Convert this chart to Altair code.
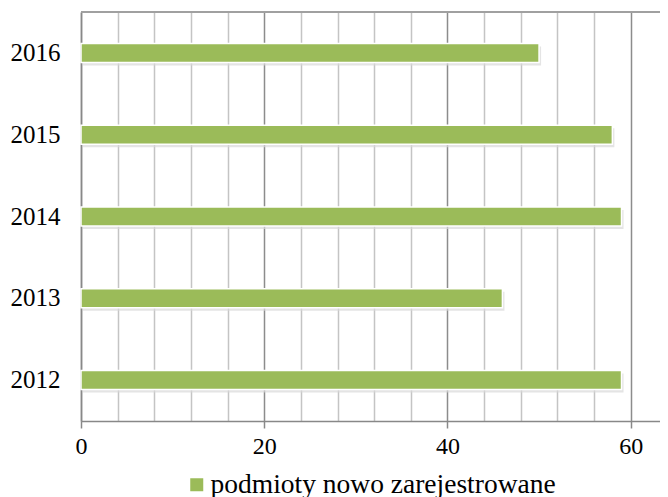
import altair as alt
import pandas as pd

years = ["2012", "2013", "2014", "2015", "2016"]
values = [59, 46, 59, 58, 50]
series = "podmioty nowo zarejestrowane"
grid_values = [0, 4, 8, 12, 16, 20, 24, 28, 32, 36, 40, 44, 48, 52, 56, 60]
x_max = 63.2

df = pd.DataFrame({"year": years, "value": values, "series": [series] * len(years)})

FONT = "Liberation Serif"
W, H = 579, 409

x_scale = alt.Scale(domain=[0, x_max], nice=False, zero=True)
y_sort = sorted(years, reverse=True)

x_axis = alt.Axis(
    values=grid_values,
    tickCount=40,
    labelExpr="datum.value % 20 === 0 ? datum.label : ''",
    labelOverlap=False,
    labelFlush=False,
    labelFont=FONT,
    labelFontSize=24,
    labelColor="black",
    labelPadding=6,
    domainColor="#888888",
    domainWidth=1.5,
    tickColor={"condition": {"test": "datum.value % 20 === 0", "value": "#888888"}, "value": "transparent"},
    tickSize=7,
    tickWidth=1.5,
    grid=True,
    gridColor={"condition": {"test": "datum.value % 20 === 0", "value": "#8c8c8c"}, "value": "#c4c4c4"},
    gridWidth=1.5,
)

y_axis = alt.Axis(
    labelFont=FONT,
    labelFontSize=25,
    labelColor="black",
    labelPadding=21,
    ticks=False,
    domainColor="#888888",
    domainWidth=1.5,
    grid=False,
)

shadow = alt.Chart(df).mark_bar(size=19, color="#d9d9d9", opacity=0.7, xOffset=2, yOffset=3).encode(
    x=alt.X("value:Q", scale=x_scale, title=None, axis=x_axis),
    y=alt.Y("year:N", sort=y_sort, title=None, axis=y_axis),
)

bars = alt.Chart(df).mark_bar(size=19, stroke="white", strokeWidth=1.5).encode(
    x=alt.X("value:Q", scale=x_scale, title=None, axis=x_axis),
    y=alt.Y("year:N", sort=y_sort, title=None, axis=y_axis),
    color=alt.Color(
        "series:N",
        scale=alt.Scale(range=["#9BBB59"]),
        legend=alt.Legend(
            orient="none",
            legendX=102,
            legendY=459,
            title=None,
            symbolType="square",
            symbolSize=169,
            symbolStrokeWidth=0,
            labelFont=FONT,
            labelFontSize=27.5,
            labelColor="black",
            labelOffset=0,
            labelLimit=600,
        ),
    ),
)

top_line = alt.Chart(df).mark_rule(color="#a0a0a0", strokeWidth=2).encode(
    x=alt.datum(0, scale=x_scale),
    x2=alt.datum(x_max),
    y=alt.value(0),
)

chart = alt.layer(shadow, bars, top_line).properties(
    width=W,
    height=H,
    autosize=alt.AutoSizeParams(type="none"),
    padding={"left": 73, "top": 4, "right": 0, "bottom": 80},
    background="white",
).configure_view(stroke=None)

chart.save("out.html", embed_options={"renderer": "svg", "actions": False})
